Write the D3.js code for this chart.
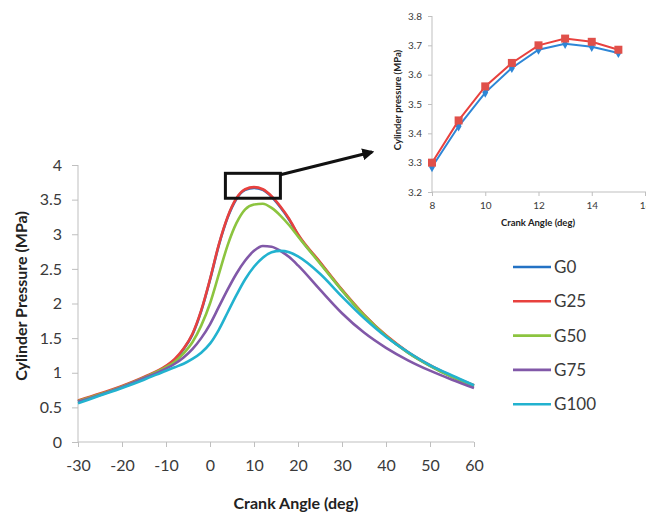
<!DOCTYPE html>
<html>
<head>
<meta charset="utf-8">
<script src="https://cdn.jsdelivr.net/npm/d3@7"></script>
<style>
  body { margin: 0; background: #fff; }
  text { font-family: Lato, "Open Sans", sans-serif; fill: #3a3a3a; }
  .axis path, .axis line { stroke: #bfbfbf; }
</style>
</head>
<body>
<div class="chart"></div>
<script>
// crank angle (deg) for the main curves
var angles = [-30, -25, -20, -15, -10, -8, -6, -4, -2, 0, 2, 4, 6, 8, 10, 12, 14, 16, 18, 20, 25, 30, 35, 40, 45, 50, 55, 60];

var g0   = [0.59, 0.69, 0.80, 0.93, 1.09, 1.19, 1.34, 1.55, 1.89, 2.34, 2.84, 3.24, 3.51, 3.64, 3.67, 3.64, 3.54, 3.39, 3.21, 2.99, 2.59, 2.19, 1.83, 1.53, 1.29, 1.10, 0.94, 0.81];
var g25  = [0.60, 0.70, 0.81, 0.94, 1.10, 1.20, 1.35, 1.56, 1.90, 2.35, 2.85, 3.25, 3.52, 3.65, 3.68, 3.65, 3.55, 3.40, 3.22, 3.00, 2.60, 2.20, 1.84, 1.54, 1.30, 1.11, 0.95, 0.82];
var g50  = [0.59, 0.69, 0.80, 0.93, 1.08, 1.16, 1.28, 1.44, 1.68, 2.00, 2.42, 2.84, 3.16, 3.36, 3.43, 3.44, 3.38, 3.27, 3.13, 2.97, 2.58, 2.19, 1.83, 1.53, 1.29, 1.10, 0.94, 0.81];
var g75  = [0.58, 0.68, 0.79, 0.92, 1.06, 1.13, 1.22, 1.34, 1.50, 1.70, 1.95, 2.20, 2.43, 2.62, 2.76, 2.83, 2.82, 2.76, 2.67, 2.55, 2.20, 1.86, 1.58, 1.36, 1.18, 1.03, 0.90, 0.78];
var g100 = [0.56, 0.67, 0.78, 0.90, 1.03, 1.08, 1.13, 1.20, 1.29, 1.42, 1.62, 1.87, 2.12, 2.35, 2.53, 2.66, 2.74, 2.76, 2.74, 2.68, 2.43, 2.10, 1.79, 1.52, 1.30, 1.11, 0.96, 0.82];

var seriesNames = ["G0", "G25", "G50", "G75", "G100"];
var seriesColors = ["#2372c4", "#e8413e", "#8cc43f", "#8158a8", "#22b2cf"];

var xTicks = [-30, -20, -10, 0, 10, 20, 30, 40, 50, 60];
var yTicks = [0, 0.5, 1, 1.5, 2, 2.5, 3, 3.5, 4];

// zoomed inset, 8..15 deg
var insetAngles = [8, 9, 10, 11, 12, 13, 14, 15];
var insetG0  = [3.285, 3.424, 3.539, 3.623, 3.685, 3.705, 3.695, 3.674];
var insetG25 = [3.300, 3.444, 3.560, 3.640, 3.700, 3.723, 3.712, 3.685];
var insetXTicks = [8, 10, 12, 14, 16];
var insetYTicks = [3.2, 3.3, 3.4, 3.5, 3.6, 3.7, 3.8];

var svgWidth = 646;
var svgHeight = 518;

var svg = d3.select(".chart")
  .append("svg")
  .attr("width", svgWidth)
  .attr("height", svgHeight);

svg.append("rect")
  .attr("width", svgWidth)
  .attr("height", svgHeight)
  .attr("fill", "#fff");

// main chart
var xScale = d3.scaleLinear().domain([-30, 60]).range([78, 474]);
var yScale = d3.scaleLinear().domain([0, 4]).range([442, 165]);

var bottomAxis = d3.axisBottom(xScale).tickValues(xTicks).tickSize(5).tickPadding(13).tickFormat(d => String(d));
var leftAxis = d3.axisLeft(yScale).tickValues(yTicks).tickSize(6).tickPadding(10).tickFormat(d => String(d));

svg.append("g")
  .attr("class", "axis")
  .attr("transform", "translate(0,442)")
  .call(bottomAxis)
  .call(g => g.select(".domain").attr("d", "M78,0H474"))
  .selectAll("text")
  .attr("font-size", 16);

svg.append("g")
  .attr("class", "axis")
  .attr("transform", "translate(78,0)")
  .call(leftAxis)
  .call(g => g.select(".domain").attr("d", "M0,165V442"))
  .selectAll("text")
  .attr("font-size", 16);

svg.selectAll(".axis text").style("fill", "#3a3a3a");

var allSeries = [g0, g25, g50, g75, g100];

var line = d3.line()
  .x((d, i) => xScale(angles[i]))
  .y(d => yScale(d))
  .curve(d3.curveMonotoneX);

svg.append("g")
  .selectAll("path")
  .data(allSeries)
  .enter()
  .append("path")
  .attr("d", d => line(d))
  .attr("fill", "none")
  .attr("stroke", (d, i) => seriesColors[i])
  .attr("stroke-width", 2.6);

svg.append("text")
  .attr("x", 296)
  .attr("y", 509)
  .attr("text-anchor", "middle")
  .attr("font-size", 16)
  .attr("font-weight", "bold")
  .style("fill", "#222")
  .text("Crank Angle (deg)");

svg.append("text")
  .attr("transform", "translate(27,296) rotate(-90)")
  .attr("text-anchor", "middle")
  .attr("font-size", 16)
  .attr("font-weight", "bold")
  .style("fill", "#222")
  .text("Cylinder Pressure (MPa)");

// legend
var legend = svg.append("g")
  .selectAll("g")
  .data(seriesNames)
  .enter()
  .append("g")
  .attr("transform", (d, i) => `translate(513, ${267 + i * 34.3})`);

legend.append("line")
  .attr("x1", 0).attr("x2", 38)
  .attr("stroke", (d, i) => seriesColors[i])
  .attr("stroke-width", 2.6);

legend.append("text")
  .attr("x", 41)
  .attr("dy", "0.36em")
  .attr("font-size", 17)
  .text(d => d);

// highlight box and arrow
svg.append("rect")
  .attr("x", xScale(3.5)).attr("y", yScale(3.88))
  .attr("width", xScale(16) - xScale(3.5))
  .attr("height", yScale(3.52) - yScale(3.88))
  .attr("fill", "none")
  .attr("stroke", "#111")
  .attr("stroke-width", 3);

svg.append("defs").append("marker")
  .attr("id", "head")
  .attr("viewBox", "0 0 10 10")
  .attr("refX", 8).attr("refY", 5)
  .attr("markerWidth", 4).attr("markerHeight", 4)
  .attr("orient", "auto")
  .append("path")
  .attr("d", "M0,0L10,5L0,10z")
  .attr("fill", "#111");

svg.append("line")
  .attr("x1", xScale(16)).attr("y1", yScale(3.86))
  .attr("x2", 372).attr("y2", 152)
  .attr("stroke", "#111")
  .attr("stroke-width", 3)
  .attr("marker-end", "url(#head)");

// inset chart
var ix = d3.scaleLinear().domain([8, 16]).range([432, 645]);
var iy = d3.scaleLinear().domain([3.2, 3.8]).range([192, 16]);

svg.append("g")
  .attr("class", "axis")
  .attr("transform", "translate(0,192)")
  .call(d3.axisBottom(ix).tickValues(insetXTicks).tickSize(4).tickPadding(6))
  .call(g => g.select(".domain").attr("d", "M432,0H646"))
  .selectAll("text")
  .attr("font-size", 10);

svg.append("g")
  .attr("class", "axis")
  .attr("transform", "translate(432,0)")
  .call(d3.axisLeft(iy).tickValues(insetYTicks).tickSize(4).tickPadding(6).tickFormat(d3.format(".1f")))
  .call(g => g.select(".domain").attr("d", "M0,16V192"))
  .selectAll("text")
  .attr("font-size", 10);

svg.selectAll(".axis text").style("fill", "#3a3a3a");

var insetLine = d3.line()
  .x((d, i) => ix(insetAngles[i]))
  .y(d => iy(d));

svg.append("path")
  .attr("d", insetLine(insetG0))
  .attr("fill", "none")
  .attr("stroke", "#2e86d6")
  .attr("stroke-width", 2);

svg.selectAll(".dia")
  .data(insetG0)
  .enter()
  .append("path")
  .attr("class", "dia")
  .attr("d", d3.symbol().type(d3.symbolDiamond).size(30))
  .attr("transform", (d, i) => `translate(${ix(insetAngles[i])},${iy(d)})`)
  .attr("fill", "#2e86d6");

svg.append("path")
  .attr("d", insetLine(insetG25))
  .attr("fill", "none")
  .attr("stroke", "#e8413e")
  .attr("stroke-width", 2);

svg.selectAll(".sq")
  .data(insetG25)
  .enter()
  .append("rect")
  .attr("class", "sq")
  .attr("x", (d, i) => ix(insetAngles[i]) - 4)
  .attr("y", d => iy(d) - 4)
  .attr("width", 8)
  .attr("height", 8)
  .attr("fill", "#e0504a");

svg.append("text")
  .attr("x", 538)
  .attr("y", 226)
  .attr("text-anchor", "middle")
  .attr("font-size", 9.5)
  .attr("font-weight", "bold")
  .style("fill", "#222")
  .text("Crank Angle (deg)");

svg.append("text")
  .attr("transform", "translate(401,100) rotate(-90)")
  .attr("text-anchor", "middle")
  .attr("font-size", 9.5)
  .attr("font-weight", "bold")
  .style("fill", "#222")
  .text("Cylinder pressure (MPa)");
</script>
</body>
</html>
